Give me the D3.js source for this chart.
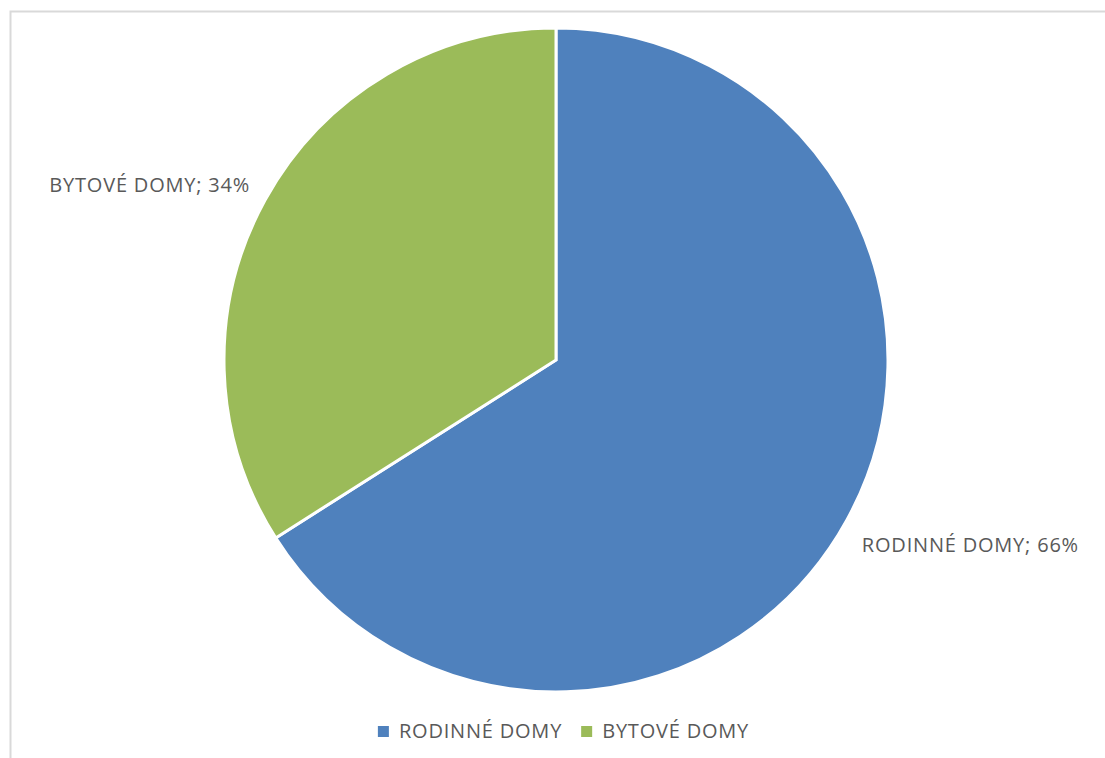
<!DOCTYPE html>
<html>
<head>
<meta charset="utf-8">
<script src="https://cdn.jsdelivr.net/npm/d3@7"></script>
<style>
  body { margin: 0; background: #fff; }
  svg { display: block; }
</style>
</head>
<body>
<svg id="chart"></svg>
<script>
var categories = ["RODINNÉ DOMY", "BYTOVÉ DOMY"];
var values = [66, 34];
var colors = ["#4f81bd", "#9bbb59"];

var width = 1105, height = 758;
var cx = 556, cy = 360, radius = 332;
var font = "'Open Sans', 'Liberation Sans', sans-serif";

var svg = d3.select("#chart").attr("width", width).attr("height", height);

// chart area border (runs off the right and bottom edge)
svg.append("rect")
  .attr("x", 10.5).attr("y", 11.5)
  .attr("width", 1200).attr("height", 800)
  .attr("fill", "none")
  .attr("stroke", "#d9d9d9")
  .attr("stroke-width", 2);

var data = categories.map(function (c, i) {
  return { name: c, value: values[i], color: colors[i] };
});

var pie = d3.pie().sort(null).value(function (d) { return d.value; });
var arc = d3.arc().innerRadius(0).outerRadius(radius);
var labelArc = d3.arc().innerRadius(349).outerRadius(349);

var g = svg.append("g").attr("transform", "translate(" + cx + "," + cy + ")");
var slices = pie(data);
var total = d3.sum(values);

g.selectAll("path.slice")
  .data(slices)
  .enter()
  .append("path")
  .attr("class", "slice")
  .attr("d", arc)
  .attr("fill", function (d) { return d.data.color; })
  .attr("stroke", "#fff")
  .attr("stroke-width", 3)
  .attr("stroke-linejoin", "miter");

// data labels outside the pie
g.selectAll("text.lbl")
  .data(slices)
  .enter()
  .append("text")
  .attr("class", "lbl")
  .attr("transform", function (d) {
    var p = labelArc.centroid(d);
    var mid = (d.startAngle + d.endAngle) / 2;
    var dy = mid < Math.PI ? 24 : 0;
    return "translate(" + p[0] + "," + (p[1] + dy) + ")";
  })
  .attr("text-anchor", function (d) {
    return (d.startAngle + d.endAngle) / 2 < Math.PI ? "start" : "end";
  })
  .style("font-family", font)
  .style("font-size", "20px")
  .style("letter-spacing", "0.8px")
  .attr("fill", "#595959")
  .text(function (d) {
    return d.data.name + "; " + Math.round(d.data.value / total * 100) + "%";
  });

// legend
var legend = svg.append("g").attr("class", "legend");
var items = legend.selectAll("g")
  .data(data)
  .enter()
  .append("g");
items.append("rect")
  .attr("width", 11).attr("height", 11)
  .attr("y", -12)
  .attr("fill", function (d) { return d.color; });
items.append("text")
  .attr("x", 21)
  .attr("y", 0)
  .style("font-family", font)
  .style("font-size", "20px")
  .style("letter-spacing", "0.8px")
  .attr("fill", "#595959")
  .text(function (d) { return d.name; });

var xpos = 0, gap = 19;
items.each(function () {
  var w = this.getBBox().width;
  d3.select(this).attr("transform", "translate(" + xpos + ",0)");
  xpos += w + gap;
});
var legendWidth = xpos - gap;
legend.attr("transform", "translate(" + (563.5 - legendWidth / 2) + ",738)");
</script>
</body>
</html>
